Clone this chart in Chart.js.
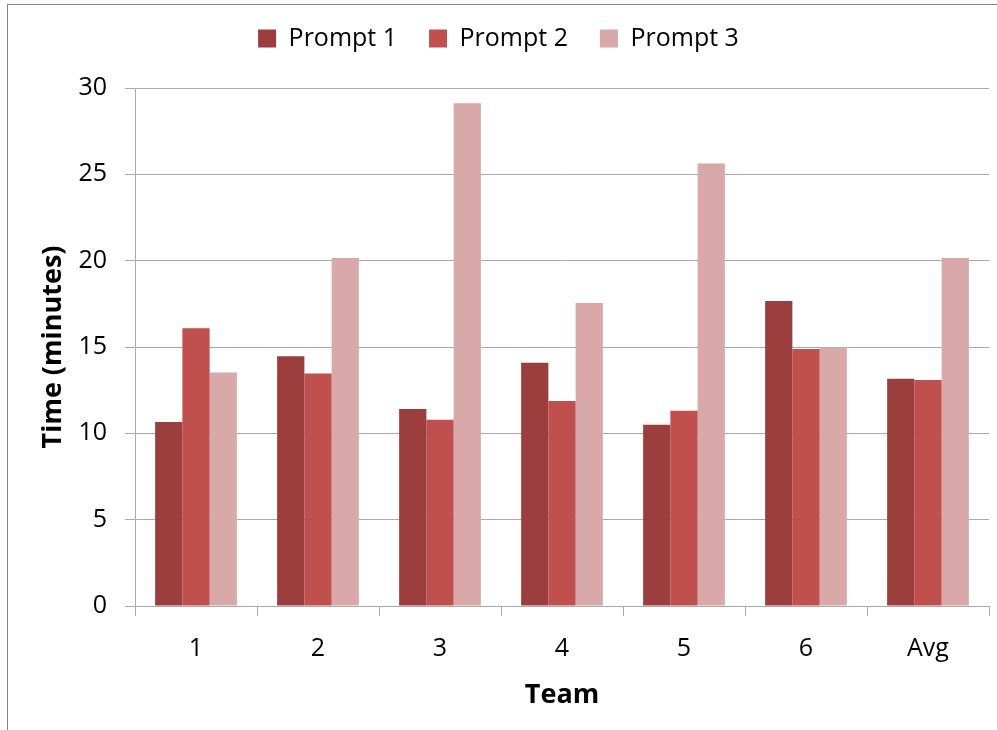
<!DOCTYPE html>
<html>
<head>
<meta charset="utf-8">
<script src="https://cdn.jsdelivr.net/npm/chart.js@4"></script>
<style>
  html, body { margin: 0; padding: 0; background: #fff; }
  #wrap { position: relative; width: 997px; height: 730px; overflow: hidden; }
  #frame { position: absolute; left: 7px; top: 4px; width: 1000px; height: 740px;
           border-top: 1px solid #858585; border-left: 1px solid #858585; }
  canvas { position: absolute; left: 0; top: 0; }
</style>
</head>
<body>
<div id="wrap">
  <div id="frame"></div>
  <canvas id="myChart" width="997" height="730"></canvas>
</div>
<script>
const teams = ['1', '2', '3', '4', '5', '6', 'Avg'];
const prompt1 = [10.66, 14.47, 11.41, 14.09, 10.5, 17.67, 13.16];
const prompt2 = [16.09, 13.47, 10.79, 11.87, 11.31, 14.88, 13.09];
const prompt3 = [13.53, 20.16, 29.12, 17.55, 25.63, 14.97, 20.16];

const seriesNames = ['Prompt 1', 'Prompt 2', 'Prompt 3'];
const seriesColors = ['#9c3e3d', '#c0504d', '#d9a9a9'];
const gridColor = '#aaaaaa';
const fontFamily = '"Open Sans", sans-serif';

const datasets = [prompt1, prompt2, prompt3].map((values, i) => {
  return {
    label: seriesNames[i],
    data: values,
    backgroundColor: seriesColors[i],
    borderWidth: 0,
    categoryPercentage: 0.67,
    barPercentage: 1.0,
  };
});

// extra room between the legend and the plot
const legendSpacing = {
  id: 'legendSpacing',
  beforeInit(chart) {
    const fit = chart.legend.fit;
    chart.legend.fit = function () {
      fit.call(this);
      this.height += 27;
    };
  },
};

const ctx = document.getElementById('myChart');

const myChart = new Chart(ctx, {
  type: 'bar',
  data: {
    labels: teams,
    datasets,
  },
  plugins: [legendSpacing],
  options: {
    responsive: false,
    animation: false,
    layout: {
      padding: { left: 8, right: 8, top: -6, bottom: 18 },
    },
    scales: {
      x: {
        grid: {
          drawOnChartArea: false,
          drawTicks: true,
          tickLength: 10,
          color: gridColor,
        },
        border: { color: gridColor },
        ticks: {
          color: '#000',
          padding: 18,
          font: { family: fontFamily, size: 25 },
        },
        title: {
          display: true,
          text: 'Team',
          color: '#000',
          padding: { top: 0, bottom: 0 },
          font: { family: fontFamily, size: 27, weight: 'bold' },
        },
        afterFit: (scale) => {
          scale.height = 730 - 18 - 606;
        },
      },
      y: {
        min: 0,
        max: 30,
        grid: {
          color: gridColor,
          tickLength: 10,
        },
        border: { color: gridColor },
        ticks: {
          stepSize: 5,
          color: '#000',
          padding: 18,
          font: { family: fontFamily, size: 25 },
        },
        title: {
          display: true,
          text: 'Time (minutes)',
          color: '#000',
          padding: { top: 29, bottom: 0 },
          font: { family: fontFamily, size: 27, weight: 'bold' },
        },
        afterFit: (scale) => {
          scale.width = 135 - 8;
        },
      },
    },
    plugins: {
      legend: {
        position: 'top',
        labels: {
          color: '#000',
          boxWidth: 18,
          boxHeight: 18,
          padding: 32,
          font: { family: fontFamily, size: 25 },
        },
      },
      tooltip: { enabled: false },
    },
  },
});
</script>
</body>
</html>
